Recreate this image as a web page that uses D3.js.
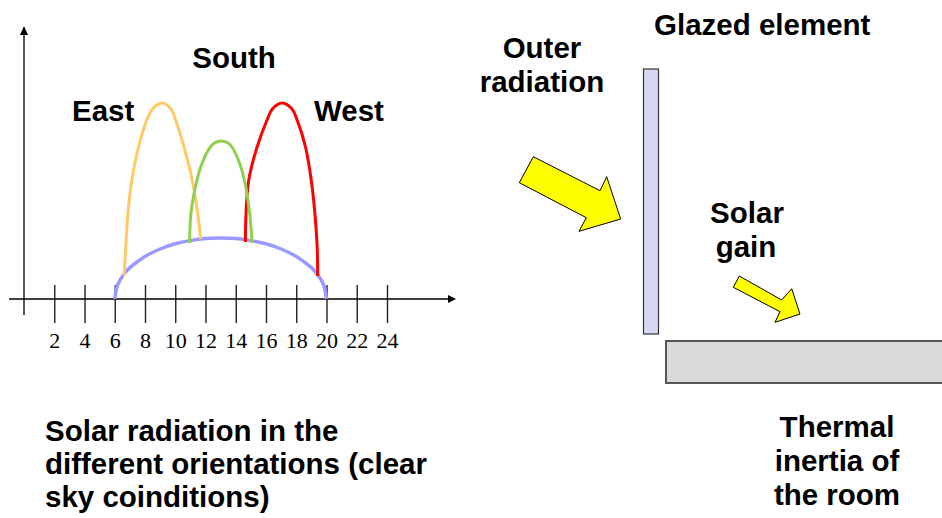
<!DOCTYPE html>
<html lang="en">
    <head>
        <meta charset="UTF-8" />
        <title>Solar radiation and glazed element</title>
        <script src="https://cdn.jsdelivr.net/npm/d3@7"></script>
        <style>
          body { margin: 0; background: #fff; }
          svg text { font-family: "Liberation Sans", Arial, sans-serif; font-weight: bold; fill: #000; }
          .tick text { font-family: "Liberation Serif", "Times New Roman", serif; font-weight: normal; }
        </style>
    </head>
    <body>
        <div id="main_div"></div>
        <script>
          // hours shown under the time axis
          const hourTicks = [2, 4, 6, 8, 10, 12, 14, 16, 18, 20, 22, 24];

          // [hour, radiation] (arbitrary units)
          const horizontalCurve = [[6, 0], [6.2, 0.72], [6.6, 1.24], [7, 1.57], [8, 2.13], [9, 2.5], [10, 2.76], [11, 2.92],
                                   [12, 3.02], [13, 3.05], [14, 3.02], [15, 2.92], [16, 2.76], [17, 2.5], [18, 2.13],
                                   [19, 1.57], [19.4, 1.24], [19.8, 0.72], [20, 0]];
          const eastCurve = [[6.62, 1.15], [6.73, 2.65], [6.87, 4.3], [7.13, 5.95], [7.57, 7.6], [8.12, 8.95], [8.5, 9.5],
                             [9.12, 9.8], [9.72, 9.5], [10.02, 8.95], [10.58, 7.6], [11.12, 5.95], [11.48, 4.3], [11.68, 2.98]];
          const southCurve = [[10.95, 2.8], [11.04, 4.3], [11.44, 5.95], [11.77, 6.78], [12.32, 7.6], [12.6, 7.8], [13.02, 7.9],
                              [13.5, 7.8], [13.75, 7.6], [14.26, 6.78], [14.57, 5.95], [14.92, 4.3], [15.08, 2.8]];
          const westCurve = [[14.64, 2.85], [14.68, 4.3], [14.86, 5.95], [15.41, 7.6], [16.07, 8.95], [16.42, 9.5], [17.06, 9.8],
                             [17.72, 9.5], [18.06, 8.95], [18.61, 7.6], [18.99, 5.95], [19.23, 4.3], [19.38, 2.65], [19.42, 1.15]];

          const orientationNames = ["East", "South", "West"];
          const bottomLeftText = ["Solar radiation in the", "different orientations (clear", "sky coinditions)"];
          const bottomRightText = ["Thermal", "inertia of", "the room"];

          const fontSize = 29.5;

          const svg = d3.select("#main_div")
                      .append("svg")
                      .attr("width", 942)
                      .attr("height", 518);

          svg.append("rect").attr("width", 942).attr("height", 518).attr("fill", "#fff");

          // scales
          const x = d3.scaleLinear().domain([0, 24]).range([24, 387]);
          const y = d3.scaleLinear().domain([0, 10]).range([299, 99]);

          // time axis with ticks crossing the line
          const xAxis = d3.axisBottom(x)
                          .tickValues(hourTicks)
                          .tickSize(38)
                          .tickPadding(9)
                          .tickFormat(d3.format("d"));
          const gx = svg.append("g")
                        .attr("transform", "translate(0,285)")
                        .call(xAxis);
          gx.select(".domain").remove();
          gx.selectAll(".tick line").attr("stroke", "#222").attr("stroke-width", 1.4);
          gx.selectAll(".tick text").attr("font-size", 22).attr("fill", "#000");

          svg.append("line")
             .attr("x1", 9).attr("x2", 450)
             .attr("y1", y(0)).attr("y2", y(0))
             .attr("stroke", "#000").attr("stroke-width", 1.3);
          svg.append("path")
             .attr("d", `M456,${y(0)} L448,${y(0) - 4} L448,${y(0) + 4} Z`)
             .attr("fill", "#000");

          svg.append("line")
             .attr("x1", x(0)).attr("x2", x(0))
             .attr("y1", 315).attr("y2", 33)
             .attr("stroke", "#000").attr("stroke-width", 1.3);
          svg.append("path")
             .attr("d", `M${x(0)},26 L${x(0) - 4},35 L${x(0) + 4},35 Z`)
             .attr("fill", "#000");

          // radiation curves
          const line = d3.line()
                         .x(d => x(d[0]))
                         .y(d => y(d[1]))
                         .curve(d3.curveCatmullRom.alpha(0.5));

          const curves = [
            { data: horizontalCurve, color: "#9999ff", width: 3.5 },
            { data: eastCurve, color: "#ffc966", width: 3 },
            { data: westCurve, color: "#ff0000", width: 3 },
            { data: southCurve, color: "#8fd14f", width: 3 }
          ];
          svg.selectAll(".curve")
             .data(curves)
             .enter().append("path")
             .attr("class", "curve")
             .attr("d", d => line(d.data))
             .attr("fill", "none")
             .attr("stroke", d => d.color)
             .attr("stroke-width", d => d.width)
             .attr("stroke-linecap", "butt");

          // orientation labels
          svg.append("text").text(orientationNames[0]).attr("x", 72).attr("y", 121).attr("font-size", fontSize);
          svg.append("text").text(orientationNames[1]).attr("x", 234).attr("y", 68).attr("font-size", fontSize).attr("text-anchor", "middle");
          svg.append("text").text(orientationNames[2]).attr("x", 314).attr("y", 121).attr("font-size", fontSize);

          svg.append("g").selectAll("text")
             .data(bottomLeftText)
             .enter().append("text")
             .attr("x", 45)
             .attr("y", (d, i) => 441 + i * 33)
             .attr("font-size", fontSize)
             .text(d => d);

          // right side sketch
          svg.append("text").text("Glazed element").attr("x", 654).attr("y", 35).attr("font-size", fontSize);
          svg.append("text").text("Outer").attr("x", 542).attr("y", 58).attr("font-size", fontSize).attr("text-anchor", "middle");
          svg.append("text").text("radiation").attr("x", 542).attr("y", 92).attr("font-size", fontSize).attr("text-anchor", "middle");
          svg.append("text").text("Solar").attr("x", 747).attr("y", 223).attr("font-size", fontSize).attr("text-anchor", "middle");
          svg.append("text").text("gain").attr("x", 746).attr("y", 257).attr("font-size", fontSize).attr("text-anchor", "middle");

          svg.append("g").selectAll("text")
             .data(bottomRightText)
             .enter().append("text")
             .attr("x", 837)
             .attr("y", (d, i) => 437 + i * 34)
             .attr("text-anchor", "middle")
             .attr("font-size", fontSize)
             .text(d => d);

          // glass pane
          svg.append("rect")
             .attr("x", 643.5).attr("y", 69)
             .attr("width", 15).attr("height", 265)
             .attr("fill", "#d6d8f4").attr("stroke", "#333").attr("stroke-width", 1.2);

          // floor slab
          svg.append("rect")
             .attr("x", 666).attr("y", 341)
             .attr("width", 290).attr("height", 42)
             .attr("fill", "#d9d9d9").attr("stroke", "#555").attr("stroke-width", 2);

          // yellow arrows
          const bigArrow = [[533.3, 156.7], [600, 190.7], [606.7, 176.7], [620.7, 219], [579, 231.3], [586.3, 217.7], [519.3, 182.7]];
          const smallArrow = [[739.3, 276], [781.7, 300], [791.7, 288.7], [800, 314], [775, 322.3], [780, 311.7], [733.3, 287.3]];
          svg.selectAll(".arrow")
             .data([bigArrow, smallArrow])
             .enter().append("polygon")
             .attr("class", "arrow")
             .attr("points", d => d.map(p => p.join(",")).join(" "))
             .attr("fill", "#ffff00")
             .attr("stroke", "#000")
             .attr("stroke-width", 1);
        </script>
    </body>
</html>
